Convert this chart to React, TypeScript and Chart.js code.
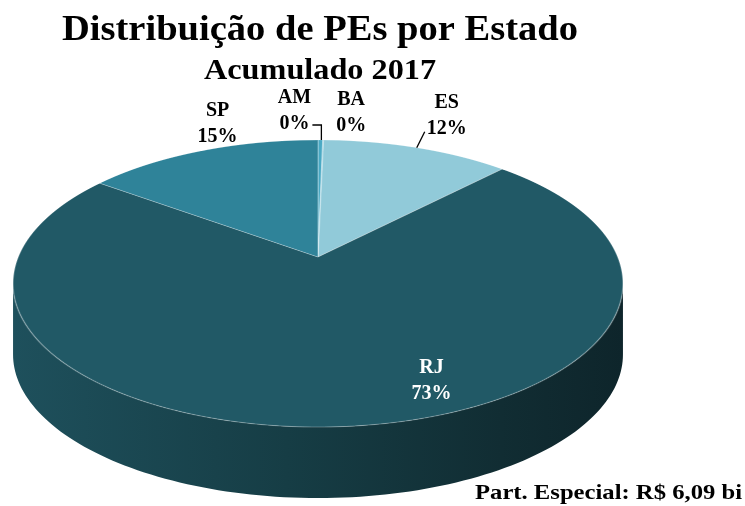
import React, { useEffect, useRef } from 'react';
import { Chart, registerables } from 'chart.js';

Chart.register(...registerables);

// ---- data ----
const CATEGORIES = ['AM', 'BA', 'ES', 'RJ', 'SP'];
const VALUES = [0.3, 0.05, 11.9, 72.8, 14.95];
const COLORS = ['#4aa9c4', '#5fb6cf', '#91cad9', '#215966', '#2f8399'];
const TITLE = 'Distribuição de PEs por Estado';
const SUBTITLE = 'Acumulado 2017';
const FOOTNOTE = 'Part. Especial: R$ 6,09 bi';

// ---- layout / style ----
const W = 745;
const H = 506;
const CX = 318; // projected pie centre
const CY = 257;
const PK = 299.7; // perspective horizontal radius
const PB = 138.6; // perspective vertical factor
const PC = -0.1848; // perspective foreshortening
const DEPTH = 71;
const FONT = '"Liberation Serif", "Times New Roman", serif';

// label placement relative to the slice's rim anchor (style, not data)
const LABEL_STYLE = [
  { f: 1, dx: -26, dy: -32, color: '#000', leader: 'elbow' },
  { f: 1, dx: 28, dy: -30, color: '#000', leader: 'none' },
  { f: 1, dx: 30, dy: -35, color: '#000', leader: 'straight' },
  { f: 0.7, dx: 93, dy: 10, color: '#fff', leader: 'none' },
  { f: 1, dx: 16, dy: -30, color: '#000', leader: 'none' },
];

function shade(hex: string, k: number): string {
  const n = parseInt(hex.slice(1), 16);
  const r = Math.round(((n >> 16) & 255) * k);
  const g = Math.round(((n >> 8) & 255) * k);
  const b = Math.round((n & 255) * k);
  return `rgb(${r},${g},${b})`;
}

function proj(u: number, v: number) {
  const d = 1 + PC * v;
  return { x: CX + (PK * u) / d, y: CY + (PB * v) / d };
}
function invY(y: number) {
  const t = y - CY;
  return t / (PB - PC * t);
}

function fitText(
  ctx: CanvasRenderingContext2D,
  text: string,
  x: number,
  y: number,
  size: number,
  width: number,
  align: CanvasTextAlign
) {
  ctx.save();
  ctx.font = `bold ${size}px ${FONT}`;
  const m = ctx.measureText(text).width;
  ctx.translate(x, y);
  ctx.scale(width / m, 1);
  ctx.textAlign = align;
  ctx.fillText(text, 0, 0);
  ctx.restore();
}

const pie3d = {
  id: 'pie3d',
  beforeDatasetsDraw() {
    return false;
  },
  afterDraw(chart: any) {
    const ctx: CanvasRenderingContext2D = chart.ctx;
    const meta = chart.getDatasetMeta(0);
    const arcs: any[] = meta.data;
    const total = VALUES.reduce((a, b) => a + b, 0);
    const A0 = Math.asin(-PC);

    // side walls (front, visible part only)
    arcs.forEach((arc, i) => {
      const s = arc.startAngle;
      const e = arc.endAngle;
      for (const shift of [-2 * Math.PI, 0, 2 * Math.PI]) {
        const a1 = Math.max(s + shift, A0);
        const a2 = Math.min(e + shift, Math.PI - A0);
        if (a2 <= a1) continue;
        const N = 120;
        ctx.save();
        ctx.beginPath();
        for (let k = 0; k <= N; k++) {
          const a = a1 + ((a2 - a1) * k) / N;
          const p = proj(Math.cos(a), Math.sin(a));
          if (k === 0) ctx.moveTo(p.x, p.y);
          else ctx.lineTo(p.x, p.y);
        }
        for (let k = N; k >= 0; k--) {
          const a = a1 + ((a2 - a1) * k) / N;
          const p = proj(Math.cos(a), Math.sin(a));
          ctx.lineTo(p.x, p.y + DEPTH);
        }
        ctx.closePath();
        const g = ctx.createLinearGradient(CX - 305, 0, CX + 305, 0);
        g.addColorStop(0, shade(COLORS[i], 0.9));
        g.addColorStop(0.45, shade(COLORS[i], 0.68));
        g.addColorStop(0.8, shade(COLORS[i], 0.5));
        g.addColorStop(1, shade(COLORS[i], 0.42));
        ctx.fillStyle = g;
        ctx.fill();
        ctx.restore();
      }
    });

    // top face: library arc elements drawn row by row in perspective
    const el0 = arcs[0];
    const ox = el0.x;
    const oy = el0.y;
    const R = el0.outerRadius;
    const yTop = Math.floor(proj(0, -1).y) - 1;
    const yBot = Math.ceil(proj(0, 1).y) + 1;
    for (let y0 = yTop; y0 < yBot; y0++) {
      const y1 = y0 + 1;
      const v0 = invY(y0);
      const v1 = invY(y1);
      const vm = (v0 + v1) / 2;
      const sy = (y1 - y0) / (R * (v1 - v0));
      const sx = PK / (R * (1 + PC * vm));
      ctx.save();
      ctx.beginPath();
      ctx.rect(0, y0, W, 1);
      ctx.clip();
      ctx.translate(CX, y0);
      ctx.scale(sx, sy);
      ctx.translate(-ox, -(oy + R * v0));
      arcs.forEach((a) => a.draw(ctx));
      ctx.restore();
    }

    // data labels
    ctx.save();
    ctx.font = `bold 20px ${FONT}`;
    ctx.textAlign = 'center';
    ctx.textBaseline = 'alphabetic';
    arcs.forEach((arc, i) => {
      const st = LABEL_STYLE[i];
      const mid = (arc.startAngle + arc.endAngle) / 2;
      const p = proj(st.f * Math.cos(mid), st.f * Math.sin(mid));
      const lx = p.x + st.dx;
      const ly = p.y + st.dy;
      const pct = Math.round((VALUES[i] / total) * 100) + '%';
      ctx.fillStyle = st.color;
      ctx.fillText(CATEGORIES[i], lx, ly - 5);
      ctx.fillText(pct, lx, ly + 21);
      const target = proj(Math.cos(mid), Math.sin(mid));
      ctx.strokeStyle = '#000';
      ctx.lineWidth = 1.3;
      if (st.leader === 'elbow') {
        ctx.beginPath();
        ctx.moveTo(lx + 18, ly + 17);
        ctx.lineTo(target.x + 1, ly + 17);
        ctx.lineTo(target.x + 1, target.y);
        ctx.stroke();
      } else if (st.leader === 'straight') {
        ctx.beginPath();
        ctx.moveTo(lx - 22, ly + 19);
        ctx.lineTo(target.x, target.y);
        ctx.stroke();
      }
    });
    ctx.restore();

    // titles and footnote
    ctx.save();
    ctx.fillStyle = '#000';
    fitText(ctx, TITLE, 320, 40, 35, 516, 'center');
    fitText(ctx, SUBTITLE, 320, 79, 30, 232, 'center');
    fitText(ctx, FOOTNOTE, 742, 499, 21, 267, 'right');
    ctx.restore();
  },
};

export default function App() {
  const ref = useRef<HTMLCanvasElement | null>(null);
  useEffect(() => {
    if (!ref.current) return;
    const chart = new Chart(ref.current, {
      type: 'pie',
      data: {
        labels: CATEGORIES,
        datasets: [
          {
            data: VALUES,
            backgroundColor: COLORS,
            borderColor: 'rgba(255,255,255,0.28)',
            borderWidth: 1,
            clip: false as any,
          },
        ],
      },
      options: {
        responsive: false,
        animation: false,
        events: [],
        layout: { padding: { left: 118, right: 227, top: 57, bottom: 49 } },
        plugins: {
          legend: { display: false },
          tooltip: { enabled: false },
          title: { display: false },
        },
      },
      plugins: [pie3d],
    });
    return () => chart.destroy();
  }, []);
  return (
    <div style={{ position: 'absolute', left: 0, top: 0, width: W, height: H, background: '#fff' }}>
      <canvas ref={ref} width={W} height={H} />
    </div>
  );
}
